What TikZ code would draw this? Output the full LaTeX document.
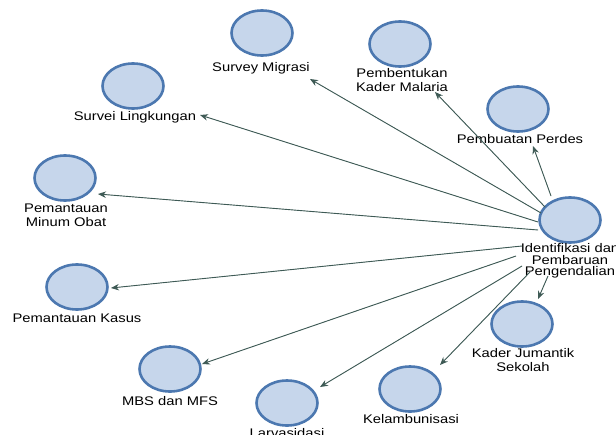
\documentclass[tikz,border=0pt]{standalone}
\usepackage{fontspec}
\setmainfont{Liberation Sans}[FakeStretch=1.18]
\usetikzlibrary{arrows.meta,calc,shapes.geometric}
\definecolor{circfill}{HTML}{C6D6EB}
\definecolor{circdraw}{HTML}{4C78B0}
\definecolor{arrcol}{HTML}{3E5A55}
\tikzset{
  bub/.style={ellipse,draw=circdraw,fill=circfill,line width=2.6pt,minimum width=61pt,minimum height=45pt,inner sep=0pt},
  lab/.style={align=center,inner sep=0pt,font=\fontsize{12.5pt}{14pt}\selectfont},
  clab/.style={align=center,inner sep=0pt,font=\fontsize{12.5pt}{11.5pt}\selectfont},
  arr/.style={draw=arrcol,line width=0.9pt,-{Stealth[length=8pt,width=6.5pt]},fill=arrcol}
}
\begin{document}
\begin{tikzpicture}[x=1pt,y=-1pt]
\useasboundingbox[fill=white] (0,0) rectangle (616,434);
% circles
\node[bub] (c)   at (570,220) {};
\node[bub] (sm)  at (262,33) {};
\node[bub] (pkm) at (400,44) {};
\node[bub] (pp)  at (518,109) {};
\node[bub] (sl)  at (133,86) {};
\node[bub] (mo)  at (65,178) {};
\node[bub] (pk)  at (77,287) {};
\node[bub] (mbs) at (170,369) {};
\node[bub] (lv)  at (287,403) {};
\node[bub] (kl)  at (410,389) {};
\node[bub] (kj)  at (522,324) {};
% labels
\node[clab] (lc)   at (570,261) {Identifikasi dan\\Pembaruan\\Pengendalian};
\node[lab]  (lsm)  at (261,68)  {Survey Migrasi};
\node[lab]  (lpkm) at (402,80)  {Pembentukan\\Kader Malaria};
\node[lab]  (lpp)  at (520,139) {Pembuatan Perdes};
\node[lab]  (lsl)  at (135,117) {Survei Lingkungan};
\node[lab]  (lmo)  at (66,215)  {Pemantauan\\Minum Obat};
\node[lab]  (lpk)  at (77,318)  {Pemantauan Kasus};
\node[lab]  (lmbs) at (170,401) {MBS dan MFS};
\node[lab]  (llv)  at (287,433) {Larvasidasi};
\node[lab]  (lkl)  at (411,419) {Kelambunisasi};
\node[lab]  (lkj)  at (523,360) {Kader Jumantik\\Sekolah};
% connectors
\draw[arr] ($(c)+(-29,-7)$)  -- ($(sm)+(48,46)$);
\draw[arr] ($(c)+(-25,-13)$) -- ($(pkm)+(35,48)$);
\draw[arr] ($(c)+(-19,-24)$) -- ($(pp)+(15,37)$);
\draw[arr] ($(c)+(-32,2)$)   -- ($(sl)+(67,29)$);
\draw[arr] ($(c)+(-32,10)$)  -- ($(mo)+(33,16)$);
\draw[arr] ($(c)+(-48,26)$)  -- ($(pk)+(34,1)$);
\draw[arr] ($(c)+(-54,36)$)  -- ($(mbs)+(32,-5)$);
\draw[arr] ($(c)+(-48,46)$)  -- ($(lv)+(33,-16)$);
\draw[arr] ($(c)+(-40,52)$)  -- ($(kl)+(30,-24)$);
\draw[arr] ($(c)+(-22,56)$)  -- ($(kj)+(16,-25)$);
\end{tikzpicture}
\end{document}
